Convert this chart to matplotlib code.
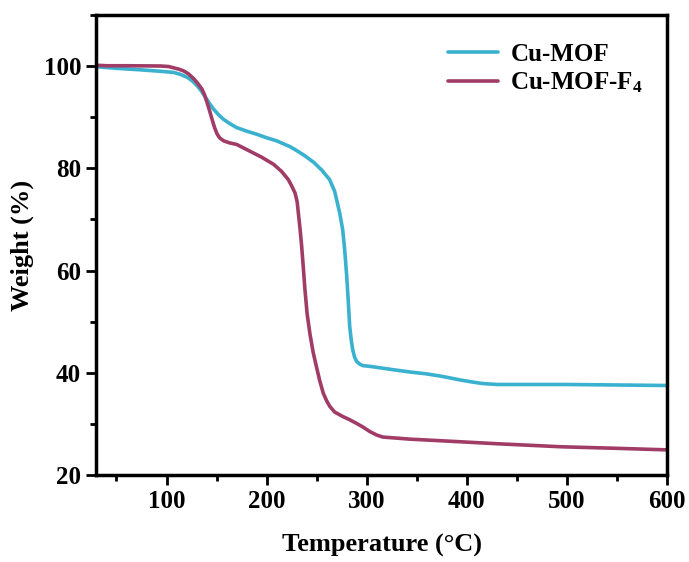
import matplotlib
matplotlib.use("Agg")
import matplotlib.pyplot as plt
from matplotlib.ticker import MultipleLocator

plt.rcParams.update({
    "font.family": "Liberation Serif",
    "font.weight": "bold",
    "font.size": 18,
    "mathtext.fontset": "custom",
    "mathtext.rm": "Liberation Serif:bold",
    "mathtext.it": "Liberation Serif:bold",
    "mathtext.bf": "Liberation Serif:bold",
})

# ── data ─────────────────────────────────────────────────────────────────────
t_mof = [30, 50, 74, 95, 107, 114, 121, 126, 131, 135, 139, 143, 147, 152,
         157, 163, 170, 180, 190, 200, 210, 217, 223, 230, 238, 247, 255, 263,
         268, 273, 276, 278, 280, 281.5, 283, 284.5, 286, 288, 290, 293, 296,
         305, 326, 345, 359, 375, 393, 405, 415, 430, 460, 500, 550, 600]
w_mof = [99.9, 99.6, 99.3, 99.0, 98.8, 98.4, 97.8, 97.1, 96.1, 95.1, 93.9,
         92.7, 91.6, 90.5, 89.6, 88.8, 88.0, 87.3, 86.7, 86.0, 85.4, 84.8,
         84.3, 83.5, 82.5, 81.2, 79.7, 77.8, 75.5, 71.3, 68.0, 64.1, 59.0,
         54.3, 49.1, 46.5, 44.5, 43.0, 42.2, 41.7, 41.4, 41.2, 40.6, 40.1,
         39.8, 39.3, 38.6, 38.2, 37.9, 37.7, 37.7, 37.7, 37.6, 37.5]

t_f4 = [30, 40, 60, 94, 102, 107, 112, 117, 122, 127, 131, 135.5, 138, 140.5,
        143, 145.5, 148, 150.4, 153, 157, 163, 170, 183, 195, 207, 215, 221.7,
        225, 228.4, 230.5, 231.7, 233.5, 235, 236.7, 238.3, 240.5, 243.3,
        246.5, 250, 253, 256.6, 260, 263.2, 268, 276.4, 283, 289.7, 296, 303,
        310, 316.3, 330, 343, 392, 430, 495, 550, 600]
w_f4 = [100.2, 100.1, 100.1, 100.05, 99.95, 99.7, 99.45, 99.1, 98.5, 97.6,
        96.7, 95.5, 94.4, 92.9, 91.3, 89.6, 88.0, 86.8, 86.0, 85.4, 85.0,
        84.7, 83.4, 82.2, 80.8, 79.4, 77.8, 76.6, 75.2, 73.5, 71.3, 68.0,
        64.8, 60.5, 56.3, 51.5, 47.6, 44.0, 41.0, 38.5, 36.0, 34.5, 33.4,
        32.3, 31.4, 30.8, 30.1, 29.4, 28.5, 27.8, 27.4, 27.2, 27.0, 26.5,
        26.1, 25.5, 25.2, 24.9]

fig, ax = plt.subplots(figsize=(6.89, 5.62), dpi=100)
fig.subplots_adjust(left=0.14, right=0.968, bottom=0.155, top=0.973)

ax.plot(t_mof, w_mof, color="#3AB1CF", lw=2.6, label="Cu-MOF",
        solid_joinstyle="round", solid_capstyle="round")
ax.plot(t_f4, w_f4, color="#A03C66", lw=2.6, label="Cu-MOF-F$_4$",
        solid_joinstyle="round", solid_capstyle="round")

ax.set_xlim(30, 600)
ax.set_ylim(20, 110)
ax.xaxis.set_major_locator(MultipleLocator(100))
ax.xaxis.set_minor_locator(MultipleLocator(50))
ax.yaxis.set_major_locator(MultipleLocator(20))
ax.yaxis.set_minor_locator(MultipleLocator(10))
ax.tick_params(which="major", direction="out", length=7, width=2, pad=4)
ax.tick_params(which="minor", direction="out", length=4, width=2)
for s in ax.spines.values():
    s.set_linewidth(2.5)

ax.set_xlabel("Temperature (\u00b0C)", fontsize=19, fontweight="bold", labelpad=15)
ax.set_ylabel("Weight (%)", fontsize=19, fontweight="bold", labelpad=7)

leg = ax.legend(loc="upper left", frameon=False, fontsize=18,
                handlelength=2.0, handletextpad=0.5, labelspacing=0.2,
                borderaxespad=0, borderpad=0,
                bbox_to_anchor=(0.616, 0.94))

fig.savefig("out.png", dpi=100)
